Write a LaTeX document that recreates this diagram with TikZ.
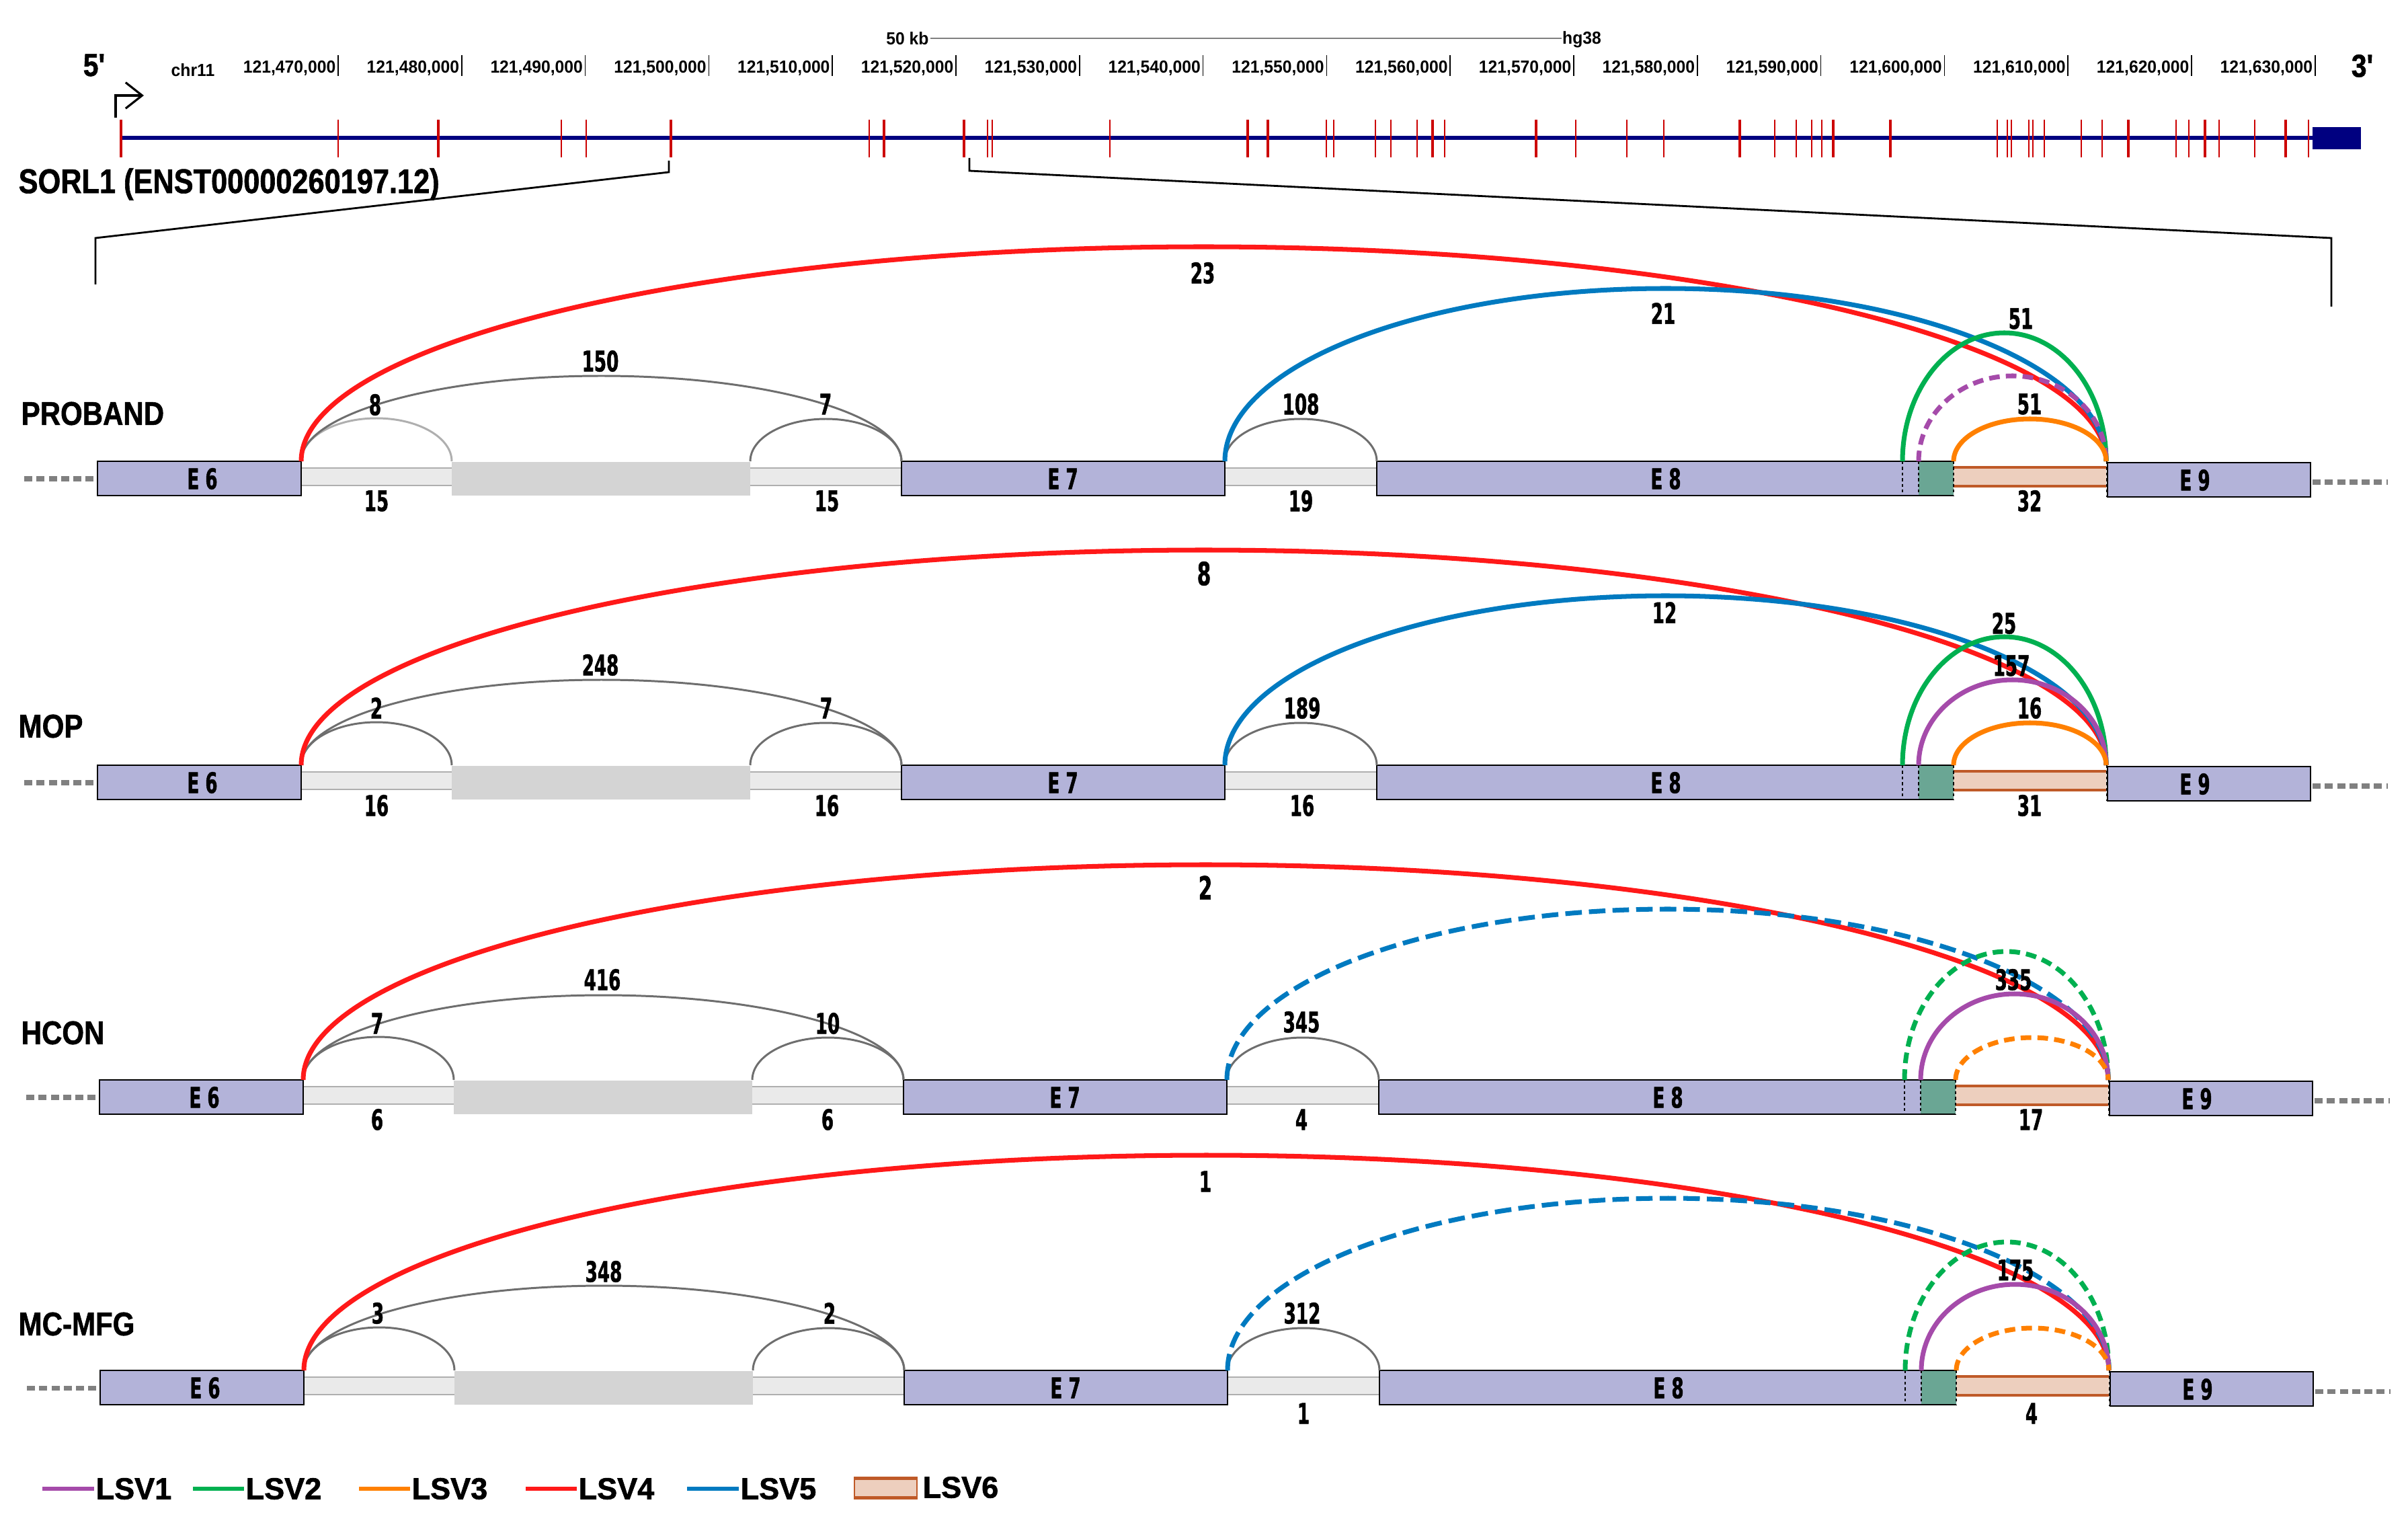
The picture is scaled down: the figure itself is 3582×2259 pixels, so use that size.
\documentclass[tikz,border=0pt]{standalone}
\usepackage{fontspec}
\setmainfont{Liberation Sans}
\newfontfamily\numf{DejaVu Sans}[FakeStretch=0.62,FakeBold=1.2]
\newfontfamily\titf{Liberation Sans}[FakeStretch=0.86,FakeBold=1.2]
\newfontfamily\sorf{Liberation Sans}[FakeStretch=0.85,FakeBold=1.2]
\newfontfamily\legf{Liberation Sans}[FakeBold=1.5]
\newfontfamily\crdf{Liberation Sans}[FakeStretch=0.95]
\usetikzlibrary{arrows.meta}
\definecolor{cpurple}{RGB}{165,75,170}
\definecolor{cgreen}{RGB}{0,176,80}
\definecolor{corange}{RGB}{255,128,0}
\definecolor{cred}{RGB}{255,25,25}
\definecolor{cblue}{RGB}{0,122,192}
\definecolor{exfill}{RGB}{179,179,217}
\definecolor{gfill}{RGB}{106,166,148}
\definecolor{sixfill}{RGB}{237,207,190}
\definecolor{sixline}{RGB}{191,90,40}
\definecolor{barfill}{RGB}{234,234,234}
\definecolor{barline}{RGB}{175,175,175}
\definecolor{boxgrey}{RGB}{212,212,212}
\definecolor{navy}{RGB}{0,0,128}
\definecolor{exred}{RGB}{204,0,0}
\definecolor{arcgrey}{RGB}{110,110,110}
\definecolor{arclight}{RGB}{175,175,175}
\definecolor{dgrey}{RGB}{128,128,128}
\tikzset{
  num/.style={font={\numf\bfseries\fontsize{12}{13}\selectfont}, inner sep=0pt},
  bignum/.style={font={\numf\bfseries\fontsize{13.5}{14}\selectfont}, inner sep=0pt},
  elab/.style={font={\numf\bfseries\fontsize{12}{13}\selectfont}, inner sep=0pt},
  ttl/.style={font={\titf\bfseries\fontsize{13.9}{15}\selectfont}, inner sep=0pt, anchor=west},
  crd/.style={font={\crdf\bfseries\fontsize{7.4}{8}\selectfont}, inner sep=0pt, anchor=east},
  leg/.style={font={\legf\bfseries\fontsize{12.8}{13}\selectfont}, inner sep=0pt, anchor=west},
  exon/.style={fill=exfill, draw=black, line width=0.75pt},
  gdash/.style={draw=dgrey, line width=2pt, dash pattern=on 3.4pt off 1.8pt},
  dotl/.style={draw=black, line width=0.5pt, dash pattern=on 1.2pt off 1.2pt},
  greyarc/.style={draw=arcgrey, line width=0.85pt},
  lightarc/.style={draw=arclight, line width=0.85pt},
  lsvone/.style={draw=cpurple, line width=2pt},
  lsvtwo/.style={draw=cgreen, line width=2pt},
  lsvthree/.style={draw=corange, line width=2pt},
  lsvfour/.style={draw=cred, line width=2pt},
  lsvfive/.style={draw=cblue, line width=2pt},
  dsh/.style={dash pattern=on 4.5pt off 2.6pt},
  dshlong/.style={dash pattern=on 7pt off 3pt},
  thintick/.style={draw=exred, line width=0.6pt},
  thicktick/.style={draw=exred, line width=1.1pt},
}
% junction arc: #2 = x start, #3 = x end, #4 = height
\newcommand\jarc[4][]{%
  \draw[#1] (#2,0) .. controls (#2,{-0.5523*#4}) and ({(#2+#3)/2-0.27615*(#3-#2)},-#4) .. ({(#2+#3)/2},-#4)
    .. controls ({(#2+#3)/2+0.27615*(#3-#2)},-#4) and (#3,{-0.5523*#4}) .. (#3,0);}
\newcommand\trackbase[1]{%
  \draw[gdash] (36,26) -- (145,26);
  \draw[gdash] (3440,31) -- (3552,31);
  \fill[barfill] (448,10) rectangle (672,36);
  \draw[barline, line width=0.8pt] (448,10) -- (672,10) (448,36) -- (672,36);
  \fill[boxgrey] (672,1) rectangle (1116,51);
  \fill[barfill] (1116,10) rectangle (1341,36);
  \draw[barline, line width=0.8pt] (1116,10) -- (1341,10) (1116,36) -- (1341,36);
  \fill[barfill] (1822,10) rectangle (2048,36);
  \draw[barline, line width=0.8pt] (1822,10) -- (2048,10) (1822,36) -- (2048,36);
  \draw[exon] (145,0) rectangle (448,51);
  \draw[exon] (1341,0) rectangle (1822,51);
  \fill[exfill] (2048,0) rectangle (2906,51);
  \fill[gfill] (2854,0) rectangle (2906,51);
  \draw[black, line width=0.75pt] (2906,0) -- (2048,0) -- (2048,51) -- (2906,51);
  \fill[sixfill] (2906,9) rectangle (3133,37);
  \draw[sixline, line width=0.9pt] (2906,9) -- (3133,9) (2906,37) -- (3133,37);
  \draw[exon] (3135,2) rectangle (3437,53);
  \draw[dotl] (448,0) -- (448,51) (1822,0) -- (1822,51) (2830,0) -- (2830,51)
    (2854,0) -- (2854,51) (2906,0) -- (2906,51) (3134,0) -- (3134,53);
  \node[elab] (#1e6) at (301,26) {E 6};
  \node[elab] (#1e7) at (1581,26) {E 7};
  \node[elab] (#1e8) at (2478,26) {E 8};
  \node[elab] (#1e9) at (3265,28) {E 9};
}
\begin{document}
\begin{tikzpicture}[x=0.1mm, y=-0.1mm]
\useasboundingbox (0,0) rectangle (3582,2259);
% ---------------- genome track ----------------
\node[font={\titf\bfseries\fontsize{13.5}{14}\selectfont}, inner sep=0pt] (five) at (140,97) {5\symbol{"27}};
\node[font={\titf\bfseries\fontsize{13.5}{14}\selectfont}, inner sep=0pt] (three) at (3514,98) {3\symbol{"27}};
\node[font={\crdf\bfseries\fontsize{7.4}{8}\selectfont}, inner sep=0pt] (chr) at (287,104) {chr11};
\node[font={\crdf\bfseries\fontsize{7.4}{8}\selectfont}, inner sep=0pt] (kb) at (1350,57) {50 kb};
\node[font={\crdf\bfseries\fontsize{7.4}{8}\selectfont}, inner sep=0pt] (hg) at (2353,59) {hg38};
\draw[draw=dgrey, line width=0.5pt] (kb.east) ++(2,0) coordinate (kbr) -- (hg.west |- kbr);
\foreach \k/\lab in {0/121{,}470{,}000,1/121{,}480{,}000,2/121{,}490{,}000,3/121{,}500{,}000,
  4/121{,}510{,}000,5/121{,}520{,}000,6/121{,}530{,}000,7/121{,}540{,}000,8/121{,}550{,}000,
  9/121{,}560{,}000,10/121{,}570{,}000,11/121{,}580{,}000,12/121{,}590{,}000,13/121{,}600{,}000,
  14/121{,}610{,}000,15/121{,}620{,}000,16/121{,}630{,}000}{
  \draw[black, line width=0.45pt] ({503+183.8*\k},82) -- ({503+183.8*\k},113);
  \node[crd] (c\k) at ({500+183.8*\k},101) {\lab};
}
\draw[navy, line width=1.7pt] (180,205) -- (3440,205);
\fill[navy] (3440,189) rectangle (3512,222);
\foreach \x in {503,835,872,1293,1469,1476,1651,1973,1984,2046,2069,2108,2149,2344,2420,2475,
  2640,2672,2695,2710,2971,2986,2992,3018,3024,3041,3096,3127,3237,3256,3301,3354,3434}
  \draw[thintick] (\x,178) -- (\x,234);
\foreach \x in {180,652,998,1315,1434,1856,1886,2131,2285,2588,2727,2812,3166,3280,3400}
  \draw[thicktick] (\x,178) -- (\x,234);
\draw[black, line width=0.9pt, -{Straight Barb[length=7pt,width=11pt]}] (172,175) -- (172,142) -- (214,142);
\node[font={\sorf\bfseries\fontsize{14.5}{15}\selectfont}, inner sep=0pt, anchor=west] (sorl) at (27,274) {SORL1 (ENST00000260197.12)};
\draw[black, line width=0.8pt] (995,239) -- (995,256) -- (142,354) -- (142,423);
\draw[black, line width=0.8pt] (1442,235) -- (1442,254) -- (3468,354) -- (3468,456);
% ---------------- PROBAND ----------------
\node[ttl] (tp) at (31,615) {PROBAND};
\begin{scope}[shift={(0,686)}]
  \trackbase{p}
  \jarc[lightarc]{448}{672}{64}
  \jarc[greyarc]{448}{1341}{127}
  \jarc[greyarc]{1116}{1341}{63}
  \jarc[greyarc]{1822}{2048}{63}
  \jarc[lsvfour]{448}{3133}{319}
  \jarc[lsvfive]{1822}{3133}{257}
  \jarc[lsvtwo]{2830}{3133}{191}
  \jarc[lsvone,dsh]{2854}{3133}{127}
  \jarc[lsvthree]{2906}{3133}{63}
  \node[num] (p1) at (558,-84) {8};
  \node[num] (p2) at (893,-149) {150};
  \node[num] (p3) at (1228,-85) {7};
  \node[num] (p4) at (1935,-85) {108};
  \node[num] (p5) at (1789,-280) {23};
  \node[num] (p6) at (2474,-220) {21};
  \node[num] (p7) at (3006,-212) {51};
  \node[num] (p8) at (3019,-85) {51};
  \node[num] (p9) at (560,59) {15};
  \node[num] (p10) at (1230,59) {15};
  \node[num] (p11) at (1935,59) {19};
  \node[num] (p12) at (3019,59) {32};
\end{scope}
% ---------------- MOP ----------------
\node[ttl] (tm) at (27,1080) {MOP};
\begin{scope}[shift={(0,1138)}]
  \trackbase{m}
  \jarc[greyarc]{448}{672}{64}
  \jarc[greyarc]{448}{1341}{127}
  \jarc[greyarc]{1116}{1341}{63}
  \jarc[greyarc]{1822}{2048}{63}
  \jarc[lsvfour]{448}{3133}{320}
  \jarc[lsvfive]{1822}{3133}{252}
  \jarc[lsvtwo]{2830}{3133}{191}
  \jarc[lsvone]{2854}{3133}{127}
  \jarc[lsvthree]{2906}{3133}{63}
  \node[num] (m1) at (560,-85) {2};
  \node[num] (m2) at (893,-149) {248};
  \node[num] (m3) at (1229,-85) {7};
  \node[num] (m4) at (1937,-85) {189};
  \node[bignum] (m5) at (1791,-285) {8};
  \node[num] (m6) at (2476,-227) {12};
  \node[num] (m7) at (2981,-211) {25};
  \node[num] (m8) at (2992,-148) {157};
  \node[num] (m9) at (3019,-85) {16};
  \node[num] (m10) at (560,60) {16};
  \node[num] (m11) at (1230,60) {16};
  \node[num] (m12) at (1937,60) {16};
  \node[num] (m13) at (3019,60) {31};
\end{scope}
% ---------------- HCON ----------------
\node[ttl] (th) at (31,1536) {HCON};
\begin{scope}[shift={(3,1606)}]
  \trackbase{h}
  \jarc[greyarc]{448}{672}{64}
  \jarc[greyarc]{448}{1341}{126}
  \jarc[greyarc]{1116}{1341}{63}
  \jarc[greyarc]{1822}{2048}{63}
  \jarc[lsvfour]{448}{3133}{320}
  \jarc[lsvfive,dshlong]{1822}{3133}{254}
  \jarc[lsvtwo,dsh]{2830}{3133}{191}
  \jarc[lsvone]{2854}{3133}{128}
  \jarc[lsvthree,dsh]{2906}{3133}{63}
  \node[num] (h1) at (558,-84) {7};
  \node[num] (h2) at (893,-149) {416};
  \node[num] (h3) at (1228,-84) {10};
  \node[num] (h4) at (1933,-86) {345};
  \node[bignum] (h5) at (1790,-286) {2};
  \node[num] (h6) at (2992,-149) {335};
  \node[num] (h7) at (558,59) {6};
  \node[num] (h8) at (1228,59) {6};
  \node[num] (h9) at (1933,59) {4};
  \node[num] (h10) at (3018,59) {17};
\end{scope}
% ---------------- MC-MFG ----------------
\node[ttl] (tc) at (27,1969) {MC-MFG};
\begin{scope}[shift={(4,2038)}]
  \trackbase{c}
  \jarc[greyarc]{448}{672}{64}
  \jarc[greyarc]{448}{1341}{126}
  \jarc[greyarc]{1116}{1341}{63}
  \jarc[greyarc]{1822}{2048}{63}
  \jarc[lsvfour]{448}{3133}{320}
  \jarc[lsvfive,dshlong]{1822}{3133}{256}
  \jarc[lsvtwo,dsh]{2830}{3133}{191}
  \jarc[lsvone]{2854}{3133}{128}
  \jarc[lsvthree,dsh]{2906}{3133}{63}
  \node[num] (c1) at (558,-85) {3};
  \node[num] (c2) at (894,-147) {348};
  \node[num] (c3) at (1230,-85) {2};
  \node[num] (c4) at (1933,-85) {312};
  \node[num] (c5) at (1789,-281) {1};
  \node[num] (c6) at (2994,-149) {175};
  \node[num] (c7) at (1935,64) {1};
  \node[num] (c8) at (3018,64) {4};
\end{scope}
% ---------------- legend ----------------
\draw[cpurple, line width=1.5pt] (63,2214) -- (140,2214);
\node[leg] (l1) at (142,2214) {LSV1};
\draw[cgreen, line width=1.5pt] (287,2214) -- (363,2214);
\node[leg] (l2) at (365,2214) {LSV2};
\draw[corange, line width=1.5pt] (534,2214) -- (610,2214);
\node[leg] (l3) at (612,2214) {LSV3};
\draw[cred, line width=1.5pt] (782,2214) -- (858,2214);
\node[leg] (l4) at (860,2214) {LSV4};
\draw[cblue, line width=1.5pt] (1022,2214) -- (1099,2214);
\node[leg] (l5) at (1101,2214) {LSV5};
\fill[sixfill] (1271,2197) rectangle (1364,2229);
\draw[sixline, line width=0.4pt] (1271,2197) rectangle (1364,2229);
\draw[sixline, line width=1.2pt] (1271,2199) -- (1364,2199) (1271,2227) -- (1364,2227);
\node[leg] (l6) at (1372,2212) {LSV6};
\end{tikzpicture}
\end{document}
